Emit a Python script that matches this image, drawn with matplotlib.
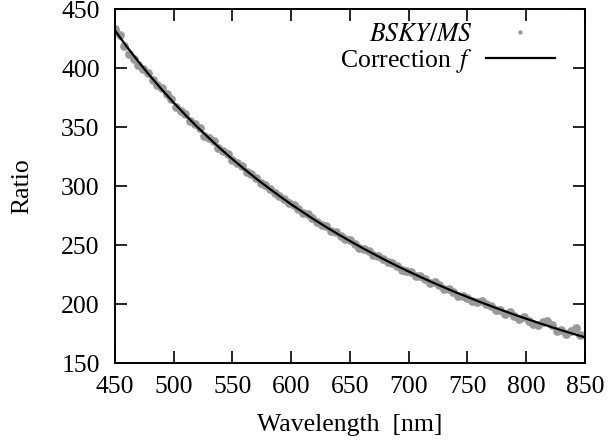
import matplotlib
matplotlib.use("Agg")
import matplotlib.pyplot as plt

plt.rcParams['font.family'] = ['Liberation Serif', 'DejaVu Serif']
plt.rcParams['mathtext.fontset'] = 'stix'
plt.rcParams['font.size'] = 18.5

# measured ratio (gray dots), every 4 nm
wl_dots = list(range(450, 851, 4))
ratio_dots = [433, 428, 419, 412, 408, 403, 399, 396, 390, 386,
              383, 378, 374, 367, 364, 361, 355, 353, 349, 343,
              341, 338, 332, 330, 327, 322, 320, 317, 312, 310,
              307, 303, 301, 298, 294, 292, 289, 286, 284, 281,
              277, 276, 273, 270, 267, 266, 262, 261, 258, 255,
              254, 251, 248, 247, 245, 242, 241, 238, 236, 235,
              232, 229, 228, 227, 224, 224, 221, 218, 219, 216,
              213, 213, 210, 207, 207, 205, 203, 202, 203, 200,
              198, 195, 195, 192, 193, 190, 187, 189, 186, 183,
              182, 185, 186, 182, 177, 178, 175, 177, 180, 174,
              174]

# correction curve f, every 10 nm
wl_fit = list(range(450, 851, 10))
ratio_fit = [432.0, 418.4, 405.6, 393.4, 381.8, 370.8, 360.3, 350.3, 340.8, 331.6,
             322.9, 314.6, 306.6, 299.0, 291.7, 284.6, 277.9, 271.4, 265.2, 259.2,
             253.5, 247.9, 242.6, 237.4, 232.4, 227.6, 223.0, 218.5, 214.2, 210.0,
             206.0, 202.1, 198.3, 194.6, 191.0, 187.6, 184.2, 181.0, 177.8, 174.8,
             171.8]

fig = plt.figure(figsize=(6.1, 4.46), dpi=100)
ax = fig.add_axes([0.1885, 0.186, 0.7705, 0.793])

ax.plot(wl_dots, ratio_dots, 'o', color='#999999', markersize=6.3,
        markeredgewidth=0, label='$BSKY/MS$')
ax.plot(wl_fit, ratio_fit, '-', color='black', linewidth=1.6,
        label='Correction $\\,f$')

ax.set_xlim(450, 850)
ax.set_ylim(150, 450)
ax.set_xticks(range(450, 851, 50))
ax.set_yticks(range(150, 451, 50))
ax.tick_params(direction='in', length=8.5, width=1.2, top=True, right=True,
               labelsize=18.5)
ax.tick_params(axis='x', pad=9.5)
ax.tick_params(axis='y', pad=11)
for s in ax.spines.values():
    s.set_linewidth(1.4)

ax.set_xlabel('Wavelength  [nm]', labelpad=11)
ax.set_ylabel('Ratio', labelpad=20)

leg = ax.legend(loc='upper right', bbox_to_anchor=(0.936, 0.961),
                frameon=False, markerfirst=False, borderpad=0,
                borderaxespad=0, handlelength=2.7, labelspacing=0.05,
                handletextpad=0.5, markerscale=0.5)
for t in leg.get_texts():
    t.set_ha('right')

fig.savefig('out.png', dpi=100)
